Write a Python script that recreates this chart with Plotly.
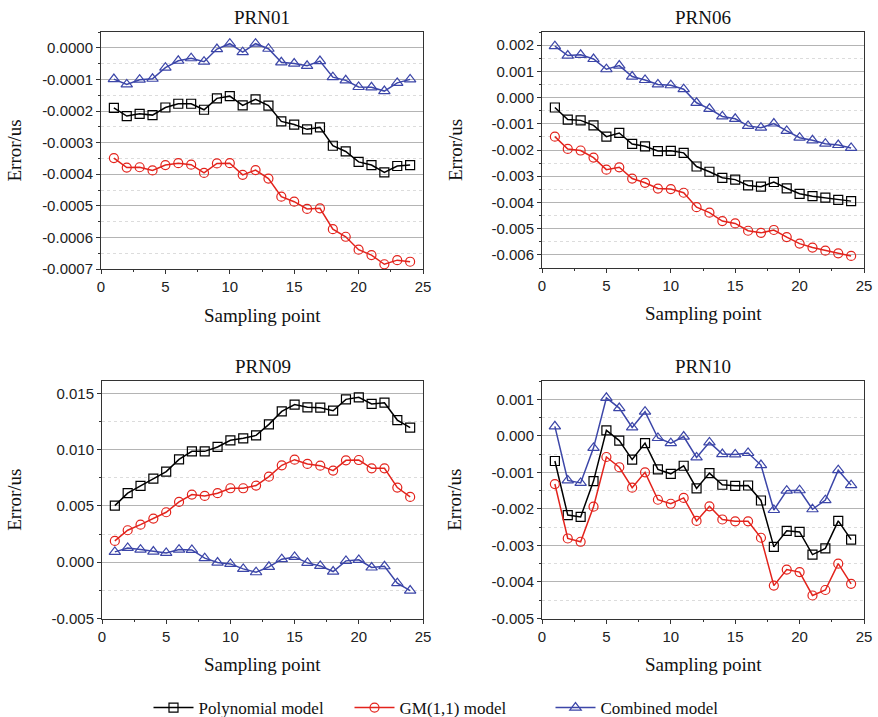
import plotly.graph_objects as go

sample = list(range(1, 25))

titles = ["PRN01", "PRN06", "PRN09", "PRN10"]
series_names = ["Polynomial model", "GM(1,1) model", "Combined model"]

prn01_poly = [-0.000190, -0.000216, -0.000209, -0.000213, -0.000189, -0.000177, -0.000177, -0.000196,
              -0.000160, -0.000153, -0.000182, -0.000163, -0.000183, -0.000233, -0.000243, -0.000258,
              -0.000252, -0.000310, -0.000328, -0.000361, -0.000371, -0.000394, -0.000374, -0.000371]
prn01_gm = [-0.000349, -0.000379, -0.000378, -0.000388, -0.000371, -0.000365, -0.000370, -0.000396,
            -0.000366, -0.000365, -0.000402, -0.000387, -0.000414, -0.000471, -0.000487, -0.000510,
            -0.000508, -0.000574, -0.000598, -0.000639, -0.000656, -0.000685, -0.000672, -0.000677]
prn01_comb = [-0.000099, -0.000116, -0.000101, -0.000098, -0.000063, -0.000041, -0.000033, -0.000044,
              -0.000004, 0.000013, -0.000014, 0.000013, -0.000003, -0.000046, -0.000050, -0.000057,
              -0.000042, -0.000093, -0.000103, -0.000124, -0.000125, -0.000137, -0.000111, -0.000100]

prn06_poly = [-0.00038, -0.00084, -0.00087, -0.00106, -0.00149, -0.00135, -0.00177, -0.00186,
              -0.00204, -0.00203, -0.00211, -0.00263, -0.00283, -0.00306, -0.00313, -0.00335,
              -0.00340, -0.00322, -0.00346, -0.00367, -0.00376, -0.00382, -0.00390, -0.00395]
prn06_gm = [-0.00149, -0.00196, -0.00202, -0.00229, -0.00275, -0.00266, -0.00309, -0.00325,
            -0.00347, -0.00349, -0.00363, -0.00418, -0.00439, -0.00471, -0.00480, -0.00508,
            -0.00516, -0.00505, -0.00532, -0.00557, -0.00572, -0.00584, -0.00594, -0.00604]
prn06_comb = [0.00196, 0.00160, 0.00163, 0.00147, 0.00108, 0.00122, 0.00080, 0.00067,
              0.00050, 0.00047, 0.00032, -0.00020, -0.00043, -0.00072, -0.00081, -0.00108,
              -0.00115, -0.00099, -0.00127, -0.00153, -0.00163, -0.00176, -0.00181, -0.00192]

prn09_poly = [0.00503, 0.00613, 0.00678, 0.00743, 0.00805, 0.00914, 0.00985, 0.00985,
              0.01024, 0.01083, 0.01101, 0.01127, 0.01225, 0.01340, 0.01400, 0.01376,
              0.01373, 0.01346, 0.01447, 0.01465, 0.01406, 0.01417, 0.01263, 0.01195]
prn09_gm = [0.00189, 0.00284, 0.00334, 0.00388, 0.00444, 0.00536, 0.00601, 0.00589,
            0.00613, 0.00657, 0.00657, 0.00681, 0.00760, 0.00861, 0.00911, 0.00873,
            0.00858, 0.00814, 0.00905, 0.00908, 0.00834, 0.00834, 0.00663, 0.00580]
prn09_comb = [0.00092, 0.00127, 0.00112, 0.00095, 0.00083, 0.00112, 0.00109, 0.00036,
              -0.00003, -0.00015, -0.00059, -0.00089, -0.00041, 0.00027, 0.00047, -0.00006,
              -0.00033, -0.00083, 0.00012, 0.00021, -0.00047, -0.00036, -0.00186, -0.00252]

prn10_poly = [-0.00069, -0.00217, -0.00222, -0.00124, 0.00015, -0.00013, -0.00065, -0.00020,
              -0.00092, -0.00104, -0.00082, -0.00144, -0.00102, -0.00134, -0.00137, -0.00136,
              -0.00177, -0.00304, -0.00260, -0.00263, -0.00325, -0.00308, -0.00233, -0.00284]
prn10_gm = [-0.00132, -0.00281, -0.00290, -0.00194, -0.00058, -0.00086, -0.00142, -0.00100,
            -0.00175, -0.00186, -0.00170, -0.00233, -0.00193, -0.00229, -0.00234, -0.00234,
            -0.00279, -0.00410, -0.00366, -0.00373, -0.00437, -0.00422, -0.00350, -0.00405]
prn10_comb = [0.00026, -0.00122, -0.00129, -0.00033, 0.00104, 0.00076, 0.00023, 0.00066,
              -0.00006, -0.00020, -0.00002, -0.00059, -0.00018, -0.00050, -0.00051, -0.00047,
              -0.00080, -0.00203, -0.00150, -0.00149, -0.00201, -0.00176, -0.00094, -0.00135]

x_ticks = [0, 5, 10, 15, 20, 25]
prn01_yticks = [0.0000, -0.0001, -0.0002, -0.0003, -0.0004, -0.0005, -0.0006, -0.0007]
prn06_yticks = [0.002, 0.001, 0.000, -0.001, -0.002, -0.003, -0.004, -0.005, -0.006]
prn09_yticks = [0.015, 0.010, 0.005, 0.000, -0.005]
prn10_yticks = [0.001, 0.000, -0.001, -0.002, -0.003, -0.004, -0.005]

data = [
    (prn01_poly, prn01_gm, prn01_comb),
    (prn06_poly, prn06_gm, prn06_comb),
    (prn09_poly, prn09_gm, prn09_comb),
    (prn10_poly, prn10_gm, prn10_comb),
]
yticks = [prn01_yticks, prn06_yticks, prn09_yticks, prn10_yticks]
ydec = [4, 3, 3, 3]
ydtick = [0.0001, 0.001, 0.005, 0.001]
yranges = [[-0.0007, 0.00005], [-0.0065, 0.0025], [-0.005, 0.0161], [-0.005, 0.0015]]

W, H = 878, 717
# pixel boxes (left, right, top, bottom)
boxes = [(101, 423, 32, 269), (542, 864, 32, 268), (102, 423, 381, 618.5), (542, 864, 381, 618.5)]

colors = ["#000000", "#E3231C", "#3C46A8"]
symbols = ["square-open", "circle-open", "triangle-up-open"]
msizes = [9, 9, 10]

fig = go.Figure()
serif = "Liberation Serif, Times New Roman, serif"
sans = "Liberation Sans, Arial, sans-serif"

for i in range(4):
    ax = "" if i == 0 else str(i + 1)
    for k in range(3):
        fig.add_trace(go.Scatter(
            x=sample, y=data[i][k], mode="lines+markers", name=series_names[k],
            line=dict(color=colors[k], width=1.5),
            marker=dict(symbol=symbols[k], size=msizes[k], color=colors[k],
                        line=dict(width=1.2, color=colors[k])),
            showlegend=(i == 0), xaxis="x" + ax, yaxis="y" + ax))
    l, r, t, b = boxes[i]
    xd = [l / W, r / W]
    yd = [1 - b / H, 1 - t / H]
    fig.update_layout(**{
        "xaxis" + ax: dict(domain=xd, anchor="y" + ax, range=[0, 25], tickvals=x_ticks,
                           ticks="outside", ticklen=4, tickcolor="#333", showline=True,
                           linecolor="#333", linewidth=1, mirror=True, showgrid=False,
                           zeroline=False, tickfont=dict(family=sans, size=15, color="#222"),
                           minor=dict(dtick=2.5, tick0=0, ticks="outside", ticklen=2, tickcolor="#333"),
                           automargin=False, fixedrange=True),
        "yaxis" + ax: dict(domain=yd, anchor="x" + ax, range=yranges[i], tickvals=yticks[i],
                           ticktext=[f"{v:.{ydec[i]}f}" for v in yticks[i]],
                           ticks="outside", ticklen=4, tickcolor="#333", showline=True,
                           linecolor="#333", linewidth=1, mirror=True, showgrid=True,
                           gridcolor="#b4b4b4", gridwidth=1, zeroline=False,
                           tickfont=dict(family=sans, size=15, color="#222"),
                           minor=dict(dtick=ydtick[i] / 2, tick0=0, ticks="outside", ticklen=2,
                                      tickcolor="#333", showgrid=True, gridcolor="#dcdcdc",
                                      griddash="dot", gridwidth=1),
                           automargin=False, fixedrange=True),
    })
    fig.add_annotation(text=titles[i], xref="paper", yref="paper", x=(l + r) / 2 / W,
                       y=1 - (t - 15) / H, xanchor="center", yanchor="middle", showarrow=False,
                       font=dict(family=serif, size=19, color="#111"))
    fig.add_annotation(text="Sampling point", xref="paper", yref="paper", x=(l + r) / 2 / W,
                       y=1 - (b + 46) / H, xanchor="center", yanchor="middle", showarrow=False,
                       font=dict(family=serif, size=19, color="#111"))
    fig.add_annotation(text="Error/us", xref="paper", yref="paper", x=(l - 87) / W,
                       y=1 - (t + b) / 2 / H, xanchor="center", yanchor="middle", showarrow=False,
                       textangle=-90, font=dict(family=serif, size=19, color="#111"))

fig.update_layout(
    width=W, height=H, margin=dict(l=0, r=0, t=0, b=0, autoexpand=False),
    paper_bgcolor="white", plot_bgcolor="white",
    legend=dict(orientation="h", x=450 / W, xanchor="center", y=1 - 708 / H, yanchor="middle",
                font=dict(family=serif, size=17, color="#111"), bgcolor="rgba(0,0,0,0)",
                entrywidth=146, entrywidthmode="pixels", itemwidth=40),
)

fig.write_html("out.html", config={"displayModeBar": False},
               post_script="document.body.style.margin='0';document.body.style.padding='0';")
